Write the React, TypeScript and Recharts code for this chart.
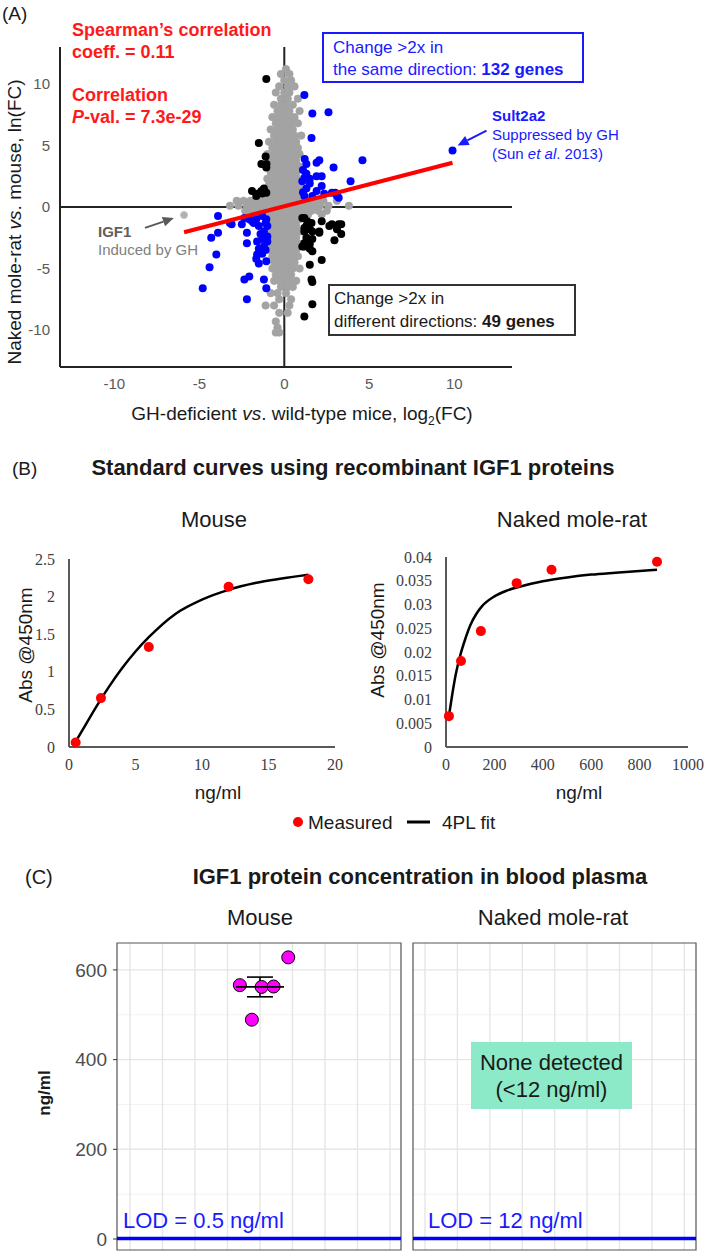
import React from "react";
import {
  ScatterChart,
  Scatter,
  ComposedChart,
  Line,
  XAxis,
  YAxis,
  CartesianGrid,
  ReferenceLine,
  ReferenceArea,
  ErrorBar,
} from "recharts";

const SANS = "'Liberation Sans', Arial, Helvetica, sans-serif";
const SERIF = "'Liberation Serif', 'Times New Roman', serif";
const BLUE = "#1a1aff";
const RED = "#ff1a1a";

// ---------- (A) fold-change scatter ----------
// gray cloud, read row by row: [y, x values along that row]
const grayRows: [number, number[]][] = [
  [11.2, [0.1]],
  [10.8, [-0.2, 0.3]],
  [10.3, [0.0, 0.4]],
  [9.8, [-0.3, 0.2, 0.6]],
  [9.3, [-0.5, 0.0, 0.3]],
  [8.8, [-0.2, 0.2, 0.8]],
  [8.3, [-0.6, -0.2, 0.1, 0.5]],
  [7.8, [-0.4, 0.0, 0.3, 0.9]],
  [7.3, [-0.7, -0.3, 0.0, 0.3, 0.6]],
  [6.8, [-0.5, -0.2, 0.1, 0.4, 0.8]],
  [6.3, [-0.8, -0.4, -0.1, 0.2, 0.5]],
  [5.8, [-0.6, -0.3, 0.0, 0.3, 0.6, 1.0]],
  [5.3, [-0.9, -0.5, -0.2, 0.1, 0.4, 0.7]],
  [4.8, [-0.7, -0.4, -0.1, 0.2, 0.5, 0.8]],
  [4.3, [-1.0, -0.6, -0.3, 0.0, 0.3, 0.6, 0.9]],
  [3.8, [-0.8, -0.5, -0.2, 0.1, 0.4, 0.7]],
  [3.3, [-0.9, -0.6, -0.3, 0.0, 0.3, 0.6, 0.9]],
  [2.8, [-0.8, -0.5, -0.2, 0.1, 0.4, 0.7]],
  [2.3, [-1.0, -0.7, -0.4, -0.1, 0.2, 0.5, 0.8]],
  [1.8, [-0.9, -0.6, -0.3, 0.0, 0.3, 0.6, 0.9]],
  [1.3, [-0.8, -0.5, -0.2, 0.1, 0.4, 0.7, 1.0]],
  [0.9, [-1.0, -0.7, -0.4, -0.1, 0.2, 0.5, 0.8]],
  [0.5, [-2.8, -2.4, -2.0, -1.6, -1.3, -0.9, -0.6, -0.3, 0.0, 0.3, 0.6, 0.9, 1.2, 1.5, 1.9, 2.3, 3.1]],
  [0.1, [-3.2, -2.7, -2.2, -1.8, -1.4, -1.1, -0.8, -0.5, -0.2, 0.1, 0.4, 0.7, 1.0, 1.3, 1.7, 2.1, 2.6, 3.8]],
  [-0.3, [-2.3, -1.9, -1.5, -1.2, -0.9, -0.6, -0.3, 0.0, 0.3, 0.6, 0.9, 1.2, 1.6, 2.0, 2.5]],
  [-0.6, [-1.7, -1.0, -0.7, -0.4, -0.1, 0.2, 0.5, 0.8, 1.4, 2.2]],
  [-1.0, [-0.9, -0.6, -0.3, 0.0, 0.3, 0.6, 0.9]],
  [-1.5, [-0.8, -0.5, -0.2, 0.1, 0.4, 0.7]],
  [-2.0, [-0.9, -0.6, -0.3, 0.0, 0.3, 0.6, 0.9]],
  [-2.5, [-0.8, -0.5, -0.2, 0.1, 0.4, 0.7]],
  [-3.0, [-0.9, -0.6, -0.3, 0.0, 0.3, 0.6, 0.9]],
  [-3.5, [-0.8, -0.5, -0.2, 0.1, 0.4, 0.7]],
  [-4.0, [-0.7, -0.4, -0.1, 0.2, 0.5, 0.8]],
  [-4.5, [-0.6, -0.3, 0.0, 0.3, 0.6]],
  [-5.0, [-0.7, -0.4, -0.1, 0.2, 0.5, 0.9]],
  [-5.5, [-0.5, -0.2, 0.1, 0.4]],
  [-6.0, [-0.6, -0.3, 0.0, 0.3, 0.7]],
  [-6.5, [-0.2, 0.2, 0.5]],
  [-7.0, [-0.8, -0.4, 0.1]],
  [-7.5, [-0.3, 0.4]],
  [-8.0, [-1.1, -0.6, 0.3]],
  [-8.6, [-0.3, 0.2]],
  [-9.3, [-0.5]],
  [-9.8, [-0.4]],
  [-10.2, [-0.5, -0.3]],
];
const grayPoints = grayRows.flatMap(([y, xs]) => xs.map((x) => ({ x, y })));

const igf1Point = [{ x: -5.9, y: -0.65 }];

// change >2x in the same direction (blue)
const sameDirection: [number, number][] = [
  [1.18, 9.1], [1.65, 7.6], [2.6, 7.7], [1.6, 5.6], [1.2, 3.9], [1.3, 3.5], [2.06, 3.8],
  [2.9, 3.2], [4.6, 3.8], [3.9, 2.1], [3.0, 1.15], [1.9, 3.6], [1.3, 2.7], [1.9, 2.5],
  [2.2, 2.5], [1.06, 2.1], [1.5, 1.9], [1.3, 1.5], [1.9, 1.3], [1.65, 0.9], [1.18, 0.9],
  [2.2, 1.7], [2.35, 1.07], [2.8, 1.15], [3.1, 0.9], [3.2, 0.75], [1.1, 3.0], [1.1, 1.2],
  [1.5, 2.3], [1.2, 2.4],
  [-3.9, -0.74], [-3.2, -1.3], [-3.1, -1.4], [-2.5, -1.4], [-2.35, -0.9], [-2.06, -1.0],
  [-1.9, -1.15], [-1.65, -1.0], [-1.3, -0.74], [-1.06, -1.0], [-1.0, -1.55], [-1.5, -1.55],
  [-1.2, -2.0], [-1.0, -2.4], [-1.3, -2.6], [-1.6, -2.8], [-1.2, -3.2], [-1.0, -2.8],
  [-1.5, -3.4], [-1.3, -3.8], [-1.65, -4.2], [-1.06, -4.4], [-1.6, -3.85], [-2.2, -2.1],
  [-2.2, -2.95], [-4.3, -2.5], [-3.9, -2.1], [-4.0, -3.85], [-4.4, -4.9], [-4.8, -6.6],
  [-2.35, -5.9], [-2.06, -5.65], [-1.2, -5.9], [-1.06, -6.6], [-2.2, -7.5], [-1.5, -4.6],
  [-1.1, -1.3], [-1.4, -2.2], [-1.1, -3.5], [-1.8, -1.3],
];
const sult2a2Point = [{ x: 9.9, y: 4.6 }];

// change >2x in different directions (black)
const diffDirection: [number, number][] = [
  [-1.06, 10.4], [-1.5, 5.2], [-1.1, 4.1], [-1.35, 3.5], [-1.06, 3.2], [-1.05, 3.5],
  [-1.9, 1.3], [-1.35, 1.3], [-1.06, 1.15], [-1.65, 0.9], [-1.6, 1.07], [-1.2, 1.5], [-1.3, 1.1],
  [1.18, -0.9], [1.35, -1.15], [1.3, -1.55], [1.5, -1.8], [1.65, -2.0], [1.18, -2.0],
  [1.3, -2.5], [1.65, -2.6], [1.5, -3.0], [1.18, -3.2], [2.06, -2.0], [2.2, -1.15],
  [2.65, -1.55], [2.8, -1.4], [3.35, -1.4], [3.35, -2.2], [2.2, -4.3], [1.6, -5.9],
  [1.65, -6.1], [1.65, -7.9], [1.06, -0.9], [1.6, -1.3], [1.18, -1.7], [2.06, -2.1],
  [1.18, -2.95], [1.5, -3.4], [1.06, -3.2], [1.65, -3.6], [3.2, -1.4], [3.1, -1.8],
  [2.95, -2.7], [1.5, -4.7], [1.18, -8.9],
];

const toXY = (arr: [number, number][]) => arr.map(([x, y]) => ({ x, y }));

const trendA = [{ x: -5.9, y: -2.05 }, { x: 9.9, y: 3.6 }];
const igf1Arrow = [{ x: -8.2, y: -1.7 }, { x: -6.5, y: -0.9 }];
const sultArrow = [{ x: 11.9, y: 6.2 }, { x: 10.2, y: 5.0 }];
const ticksA = [-10, -5, 0, 5, 10];

// ---------- (B) standard curves ----------
const mouseConc = [0.5, 2.4, 6, 12, 18];
const mouseAbs = [0.06, 0.65, 1.33, 2.13, 2.23];
const mouseFitX = [0.5, 1, 2, 3, 4, 5, 6, 8, 10, 12, 14, 16, 18];
const mouseFitY = [0.07, 0.22, 0.52, 0.8, 1.05, 1.27, 1.46, 1.77, 1.96, 2.09, 2.18, 2.24, 2.29];

const nmrConc = [12, 62, 144, 292, 436, 872];
const nmrAbs = [0.0065, 0.0181, 0.0244, 0.0345, 0.0373, 0.039];
const nmrFitX = [12, 25, 40, 60, 80, 100, 125, 150, 200, 250, 300, 400, 500, 600, 700, 872];
const nmrFitY = [0.0065, 0.0108, 0.0152, 0.0195, 0.0228, 0.0256, 0.028, 0.0297, 0.0317, 0.0329, 0.0337, 0.0349, 0.0357, 0.0363, 0.0367, 0.0373];

const zip = (xs: number[], ys: number[]) => xs.map((x, i) => ({ x, y: ys[i] }));

// ---------- (C) plasma IGF1 ----------
const plasmaX = [3.38, 3.75, 4.05, 4.42, 4.87];
const plasmaY = [566, 489, 562, 563, 628];
const plasmaMean = [{ x: 4, y: 562, sem: 22 }];
const lodLineY = [1, 1];
const gridMajorY = [0, 200, 400, 600];
const gridMinorY = [100, 300, 500];
const gridX = [0, 1, 2, 3, 4, 5, 6, 7, 8];

const dot = (r: number, fill: string, stroke = "none", sw = 0) => (p: any) => (
  <circle cx={p.cx} cy={p.cy} r={r} fill={fill} stroke={stroke} strokeWidth={sw} />
);

const noDot = () => <g />;

const arrow = (color: string) => (p: any) => {
  const { x1, y1, x2, y2 } = p;
  const a = Math.atan2(y2 - y1, x2 - x1);
  const L = 11;
  const W = 5;
  const bx = x2 - L * Math.cos(a);
  const by = y2 - L * Math.sin(a);
  const pts = `${x2},${y2} ${bx - W * Math.sin(a)},${by + W * Math.cos(a)} ${bx + W * Math.sin(a)},${by - W * Math.cos(a)}`;
  return (
    <g>
      <line x1={x1} y1={y1} x2={bx} y2={by} stroke={color} strokeWidth={2} />
      <polygon points={pts} fill={color} />
    </g>
  );
};

const crossbar = (p: any) => (
  <line x1={p.cx - 24} x2={p.cx + 24} y1={p.cy} y2={p.cy} stroke="#000" strokeWidth={1.8} />
);

type TxtProps = {
  x: number;
  y: number;
  size?: number;
  color?: string;
  bold?: boolean;
  center?: boolean;
  rotate?: boolean;
  lh?: number;
  children: React.ReactNode;
};

function Txt({ x, y, size = 16, color = "#1a1a1a", bold, center, rotate, lh, children }: TxtProps) {
  let transform = center ? "translate(-50%, -50%)" : "translateY(-50%)";
  if (rotate) transform = "translate(-50%, -50%) rotate(-90deg)";
  return (
    <div
      style={{
        position: "absolute",
        left: x,
        top: y,
        fontSize: size,
        lineHeight: `${lh ?? Math.round(size * 1.2)}px`,
        fontWeight: bold ? 700 : 400,
        color,
        whiteSpace: "nowrap",
        transform,
        textAlign: center ? "center" : "left",
      }}
    >
      {children}
    </div>
  );
}

const at = (s: string) => <i>{s}</i>;

export default function App() {
  return (
    <div
      style={{
        position: "absolute",
        left: 0,
        top: 0,
        width: 709,
        height: 1253,
        overflow: "hidden",
        background: "#fff",
        fontFamily: SANS,
      }}
    >
      {/* (A) */}
      <div style={{ position: "absolute", left: 0, top: 0 }}>
        <ScatterChart width={709} height={430} margin={{ top: 47, right: 197, bottom: 0, left: 0 }}>
          <XAxis
            type="number"
            dataKey="x"
            domain={[-13.2, 13.4]}
            ticks={ticksA}
            allowDataOverflow
            height={63}
            tickLine={false}
            tickSize={0}
            tickMargin={11}
            axisLine={{ stroke: "#222", strokeWidth: 2 }}
            tick={{ fill: "#595959", fontSize: 15, fontFamily: SANS }}
          />
          <YAxis
            type="number"
            dataKey="y"
            domain={[-13, 13]}
            ticks={ticksA}
            allowDataOverflow
            width={60}
            tickLine={false}
            tickSize={0}
            tickMargin={10}
            axisLine={{ stroke: "#222", strokeWidth: 2 }}
            tick={{ fill: "#595959", fontSize: 15, fontFamily: SANS }}
          />
          <ReferenceLine y={0} stroke="#222" strokeWidth={2} />
          <ReferenceLine x={0} stroke="#222" strokeWidth={2} />
          <Scatter data={grayPoints} shape={dot(3.8, "#a3a3a3", "#a3a3a3", 0.6)} isAnimationActive={false} />
          <Scatter data={igf1Point} shape={dot(3.5, "#b0b0b0", "#c4c4c4", 1)} isAnimationActive={false} />
          <Scatter data={toXY(sameDirection)} shape={dot(4, "#0000ff")} isAnimationActive={false} />
          <Scatter data={toXY(diffDirection)} shape={dot(4, "#000")} isAnimationActive={false} />
          <Scatter data={trendA} line={{ stroke: "#ff0000", strokeWidth: 4 }} shape={noDot} isAnimationActive={false} />
          <Scatter data={sult2a2Point} shape={dot(4, "#0000ff")} isAnimationActive={false} />
          <ReferenceLine segment={igf1Arrow} shape={arrow("#595959")} />
          <ReferenceLine segment={sultArrow} shape={arrow(BLUE)} />
        </ScatterChart>
      </div>

      <Txt x={2} y={13} size={19}>(A)</Txt>
      <Txt x={72} y={41} size={18} bold color={RED} lh={22}>
        Spearman’s correlation
        <br />
        coeff. = 0.11
      </Txt>
      <Txt x={72} y={106} size={18} bold color={RED} lh={22}>
        Correlation
        <br />
        {at("P")}-val. = 7.3e-29
      </Txt>
      <div
        style={{
          position: "absolute",
          left: 322,
          top: 32,
          width: 262,
          height: 51,
          border: `2px solid ${BLUE}`,
          color: BLUE,
          fontSize: 17,
          lineHeight: "22px",
          padding: "3px 0 0 9px",
          boxSizing: "border-box",
          whiteSpace: "nowrap",
        }}
      >
        Change &gt;2x in
        <br />
        the same direction: <b>132 genes</b>
      </div>
      <div
        style={{
          position: "absolute",
          left: 328,
          top: 284,
          width: 248,
          height: 52,
          border: "2px solid #333",
          color: "#1a1a1a",
          fontSize: 17,
          lineHeight: "23px",
          padding: "1px 0 0 4px",
          boxSizing: "border-box",
          whiteSpace: "nowrap",
        }}
      >
        Change &gt;2x in
        <br />
        different directions: <b>49 genes</b>
      </div>
      <Txt x={492} y={134} size={15} color={BLUE} lh={19}>
        <b>Sult2a2</b>
        <br />
        Suppressed by GH
        <br />
        (Sun {at("et al")}. 2013)
      </Txt>
      <Txt x={98} y={241} size={15} color="#7f7f7f" lh={18}>
        <b style={{ color: "#606060" }}>IGF1</b>
        <br />
        Induced by GH
      </Txt>
      <Txt x={14} y={222} size={19} rotate>
        Naked mole-rat {at("vs")}. mouse, ln(FC)
      </Txt>
      <Txt x={302} y={415} size={19} center>
        GH-deficient {at("vs")}. wild-type mice, log
        <span style={{ fontSize: 12, position: "relative", top: 5 }}>2</span>(FC)
      </Txt>

      {/* (B) */}
      <Txt x={12} y={468} size={19}>(B)</Txt>
      <Txt x={353} y={468} size={22} bold center>
        Standard curves using recombinant IGF1 proteins
      </Txt>
      <Txt x={214} y={520} size={22} center>Mouse</Txt>
      <Txt x={572} y={520} size={22} center>Naked mole-rat</Txt>

      <div style={{ position: "absolute", left: 0, top: 540 }}>
        <ComposedChart width={350} height={240} margin={{ top: 19, right: 15, bottom: 0, left: 0 }}>
          <XAxis
            type="number"
            dataKey="x"
            domain={[0, 20]}
            ticks={[0, 5, 10, 15, 20]}
            height={33}
            tickLine={false}
            tickSize={0}
            tickMargin={12}
            axisLine={{ stroke: "#595959", strokeWidth: 2 }}
            tick={{ fill: "#404040", fontSize: 16, fontFamily: SERIF }}
          />
          <YAxis
            type="number"
            dataKey="y"
            domain={[0, 2.5]}
            ticks={[0, 0.5, 1, 1.5, 2, 2.5]}
            width={69}
            tickLine={false}
            tickSize={0}
            tickMargin={14}
            axisLine={{ stroke: "#595959", strokeWidth: 2 }}
            tick={{ fill: "#404040", fontSize: 16, fontFamily: SERIF }}
          />
          <Scatter data={zip(mouseConc, mouseAbs)} dataKey="y" shape={dot(5, "#ff0000")} isAnimationActive={false} />
          <Line data={zip(mouseFitX, mouseFitY)} dataKey="y" type="monotone" stroke="#000" strokeWidth={2.5} dot={false} isAnimationActive={false} />
        </ComposedChart>
      </div>
      <div style={{ position: "absolute", left: 360, top: 540 }}>
        <ComposedChart width={349} height={240} margin={{ top: 17, right: 21, bottom: 0, left: 0 }}>
          <XAxis
            type="number"
            dataKey="x"
            domain={[0, 1000]}
            ticks={[0, 200, 400, 600, 800, 1000]}
            height={33}
            tickLine={false}
            tickSize={0}
            tickMargin={12}
            axisLine={{ stroke: "#595959", strokeWidth: 2 }}
            tick={{ fill: "#404040", fontSize: 16, fontFamily: SERIF }}
          />
          <YAxis
            type="number"
            dataKey="y"
            domain={[0, 0.04]}
            ticks={[0, 0.005, 0.01, 0.015, 0.02, 0.025, 0.03, 0.035, 0.04]}
            width={86}
            tickLine={false}
            tickSize={0}
            tickMargin={14}
            axisLine={{ stroke: "#595959", strokeWidth: 2 }}
            tick={{ fill: "#404040", fontSize: 16, fontFamily: SERIF }}
          />
          <Scatter data={zip(nmrConc, nmrAbs)} dataKey="y" shape={dot(5, "#ff0000")} isAnimationActive={false} />
          <Line data={zip(nmrFitX, nmrFitY)} dataKey="y" type="monotone" stroke="#000" strokeWidth={2.5} dot={false} isAnimationActive={false} />
        </ComposedChart>
      </div>
      <Txt x={25} y={645} size={19} rotate>Abs @450nm</Txt>
      <Txt x={377} y={640} size={19} rotate>Abs @450nm</Txt>
      <Txt x={218} y={792} size={19} center>ng/ml</Txt>
      <Txt x={579} y={792} size={19} center>ng/ml</Txt>

      <svg style={{ position: "absolute", left: 290, top: 812 }} width={150} height={20}>
        <circle cx={8} cy={10} r={5} fill="#ff0000" />
        <line x1={117} x2={140} y1={10} y2={10} stroke="#000" strokeWidth={3} />
      </svg>
      <Txt x={308} y={822} size={19}>Measured</Txt>
      <Txt x={442} y={822} size={19}>4PL fit</Txt>

      {/* (C) */}
      <Txt x={25} y={877} size={20}>(C)</Txt>
      <Txt x={420} y={877} size={22} bold center>
        IGF1 protein concentration in blood plasma
      </Txt>
      <Txt x={260} y={918} size={22} center>Mouse</Txt>
      <Txt x={553} y={918} size={22} center>Naked mole-rat</Txt>

      <div style={{ position: "absolute", left: 0, top: 930 }}>
        <ScatterChart width={405} height={323} margin={{ top: 13, right: 4, bottom: 3, left: 0 }}>
          <CartesianGrid horizontalValues={gridMinorY} vertical={false} stroke="#f0f0f0" strokeWidth={0.9} />
          <CartesianGrid horizontalValues={gridMajorY} verticalValues={gridX} stroke="#e6e6e6" strokeWidth={1.4} />
          <XAxis type="number" dataKey="x" domain={[-0.4, 8.34]} allowDataOverflow hide />
          <YAxis
            type="number"
            dataKey="y"
            domain={[-24.5, 660]}
            ticks={gridMajorY}
            allowDataOverflow
            width={117}
            axisLine={false}
            tickSize={4}
            tickMargin={6}
            tickLine={{ stroke: "#333" }}
            tick={{ fill: "#4d4d4d", fontSize: 19, fontFamily: SANS }}
          />
          <ReferenceArea x1={-0.4} x2={8.34} y1={-24.5} y2={660} fill="none" stroke="#555" strokeWidth={1.2} />
          <ReferenceLine y={lodLineY[0]} stroke="#0000ff" strokeWidth={3.5} />
          <Scatter data={zip(plasmaX, plasmaY)} shape={dot(6.5, "#ff00ff", "#000", 1)} isAnimationActive={false} />
          <Scatter data={plasmaMean} shape={crossbar} isAnimationActive={false}>
            <ErrorBar dataKey="sem" direction="y" width={13} stroke="#000" strokeWidth={1.6} />
          </Scatter>
        </ScatterChart>
      </div>
      <div style={{ position: "absolute", left: 405, top: 930 }}>
        <ScatterChart width={304} height={323} margin={{ top: 13, right: 13, bottom: 3, left: 8 }}>
          <CartesianGrid horizontalValues={gridMinorY} vertical={false} stroke="#f0f0f0" strokeWidth={0.9} />
          <CartesianGrid horizontalValues={gridMajorY} verticalValues={gridX} stroke="#e6e6e6" strokeWidth={1.4} />
          <XAxis type="number" dataKey="x" domain={[-0.37, 8.36]} allowDataOverflow hide />
          <YAxis type="number" dataKey="y" domain={[-24.5, 660]} allowDataOverflow hide />
          <ReferenceArea x1={-0.37} x2={8.36} y1={-24.5} y2={660} fill="none" stroke="#555" strokeWidth={1.2} />
          <ReferenceLine y={lodLineY[1]} stroke="#0000ff" strokeWidth={3.5} />
        </ScatterChart>
      </div>
      <Txt x={45} y={1093} size={17} bold rotate>ng/ml</Txt>
      <Txt x={123} y={1221} size={22} color={BLUE}>LOD = 0.5 ng/ml</Txt>
      <Txt x={428} y={1221} size={22} color={BLUE}>LOD = 12 ng/ml</Txt>
      <div
        style={{
          position: "absolute",
          left: 471,
          top: 1042,
          width: 161,
          height: 67,
          background: "#8deac9",
          color: "#1a1a1a",
          fontSize: 22,
          lineHeight: "27px",
          textAlign: "center",
          paddingTop: 7,
          boxSizing: "border-box",
          whiteSpace: "nowrap",
        }}
      >
        None detected
        <br />
        (&lt;12 ng/ml)
      </div>
    </div>
  );
}
